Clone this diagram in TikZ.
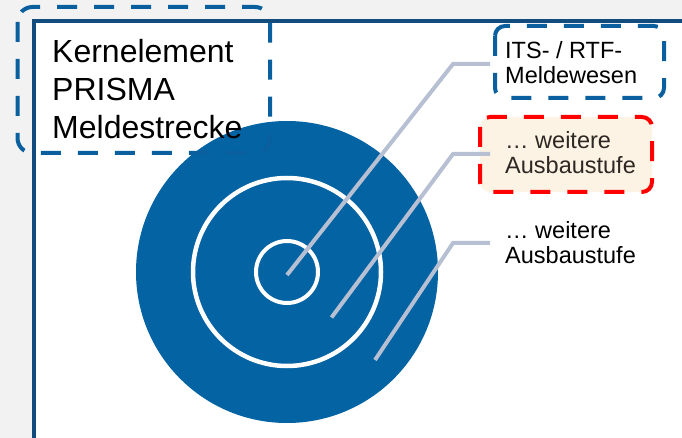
\documentclass[tikz,border=0pt]{standalone}
\usepackage{fontspec}
\setmainfont{Liberation Sans}
\usepackage{tikz}

\definecolor{hgrau}{RGB}{242,242,242}
\definecolor{rahmenblau}{RGB}{18,76,124}
\definecolor{kreisblau}{RGB}{4,99,163}
\definecolor{strichblau}{RGB}{10,96,158}
\definecolor{leitgrau}{RGB}{183,192,211}
\definecolor{stufebeige}{RGB}{253,243,228}
\definecolor{textdunkel}{RGB}{45,40,35}

\begin{document}
\begin{tikzpicture}[x=1pt, y=-1pt,
    strich/.style={line width=4pt, dash pattern=on 20pt off 17pt},
    leitung/.style={line width=4pt, leitgrau},
    gross/.style={font=\fontsize{32}{38}\selectfont, align=left, inner sep=0pt, anchor=north west},
    klein/.style={font=\fontsize{23.5}{24.5}\selectfont, align=left, inner sep=0pt, anchor=north west}]

\useasboundingbox (0,0) rectangle (682,438);
\clip (0,0) rectangle (682,438);

% Hintergrund
\fill[hgrau] (0,0) rectangle (682,438);
\draw[rahmenblau, line width=4pt, fill=white] (33.5,21) rectangle (720,480);

% Kreise
\coordinate (mitte) at (287,272);
\fill[kreisblau] (mitte) circle (151pt);
\draw[white, line width=4.5pt] (mitte) circle (94pt);
\draw[white, line width=4pt] (mitte) circle (31pt);

% Rahmen
\draw[strich, strichblau, rounded corners=15pt] (17.5,7) rectangle (270,153);
\draw[strich, strichblau, rounded corners=10pt] (495,26) rectangle (664,98);
\draw[strich, red, fill=stufebeige, rounded corners=10pt] (480,117) rectangle (652,192);

% Beschriftungen
\node[gross] (kern) at (52,39) {Kernelement\\PRISMA\\Meldestrecke};
\node[klein] (its) at (505,41.5) {ITS- / RTF-\\Meldewesen};
\node[klein, textdunkel] (stufe1) at (505,131.5) {… weitere\\Ausbaustufe};
\node[klein] (stufe2) at (505,221.5) {… weitere\\Ausbaustufe};

% Linien
\coordinate (z1) at (287,275);
\coordinate (k1) at (453,64);
\coordinate (e1) at (490,64);
\coordinate (z2) at (331.5,317.5);
\coordinate (k2) at (453,154);
\coordinate (e2) at (490,154);
\coordinate (z3) at (375,360);
\coordinate (k3) at (453,243);
\coordinate (e3) at (490,243);

\draw[leitung] (z1) -- (k1) -- (e1);
\draw[leitung] (z2) -- (k2) -- (e2);
\draw[leitung] (z3) -- (k3) -- (e3);

\end{tikzpicture}
\end{document}
